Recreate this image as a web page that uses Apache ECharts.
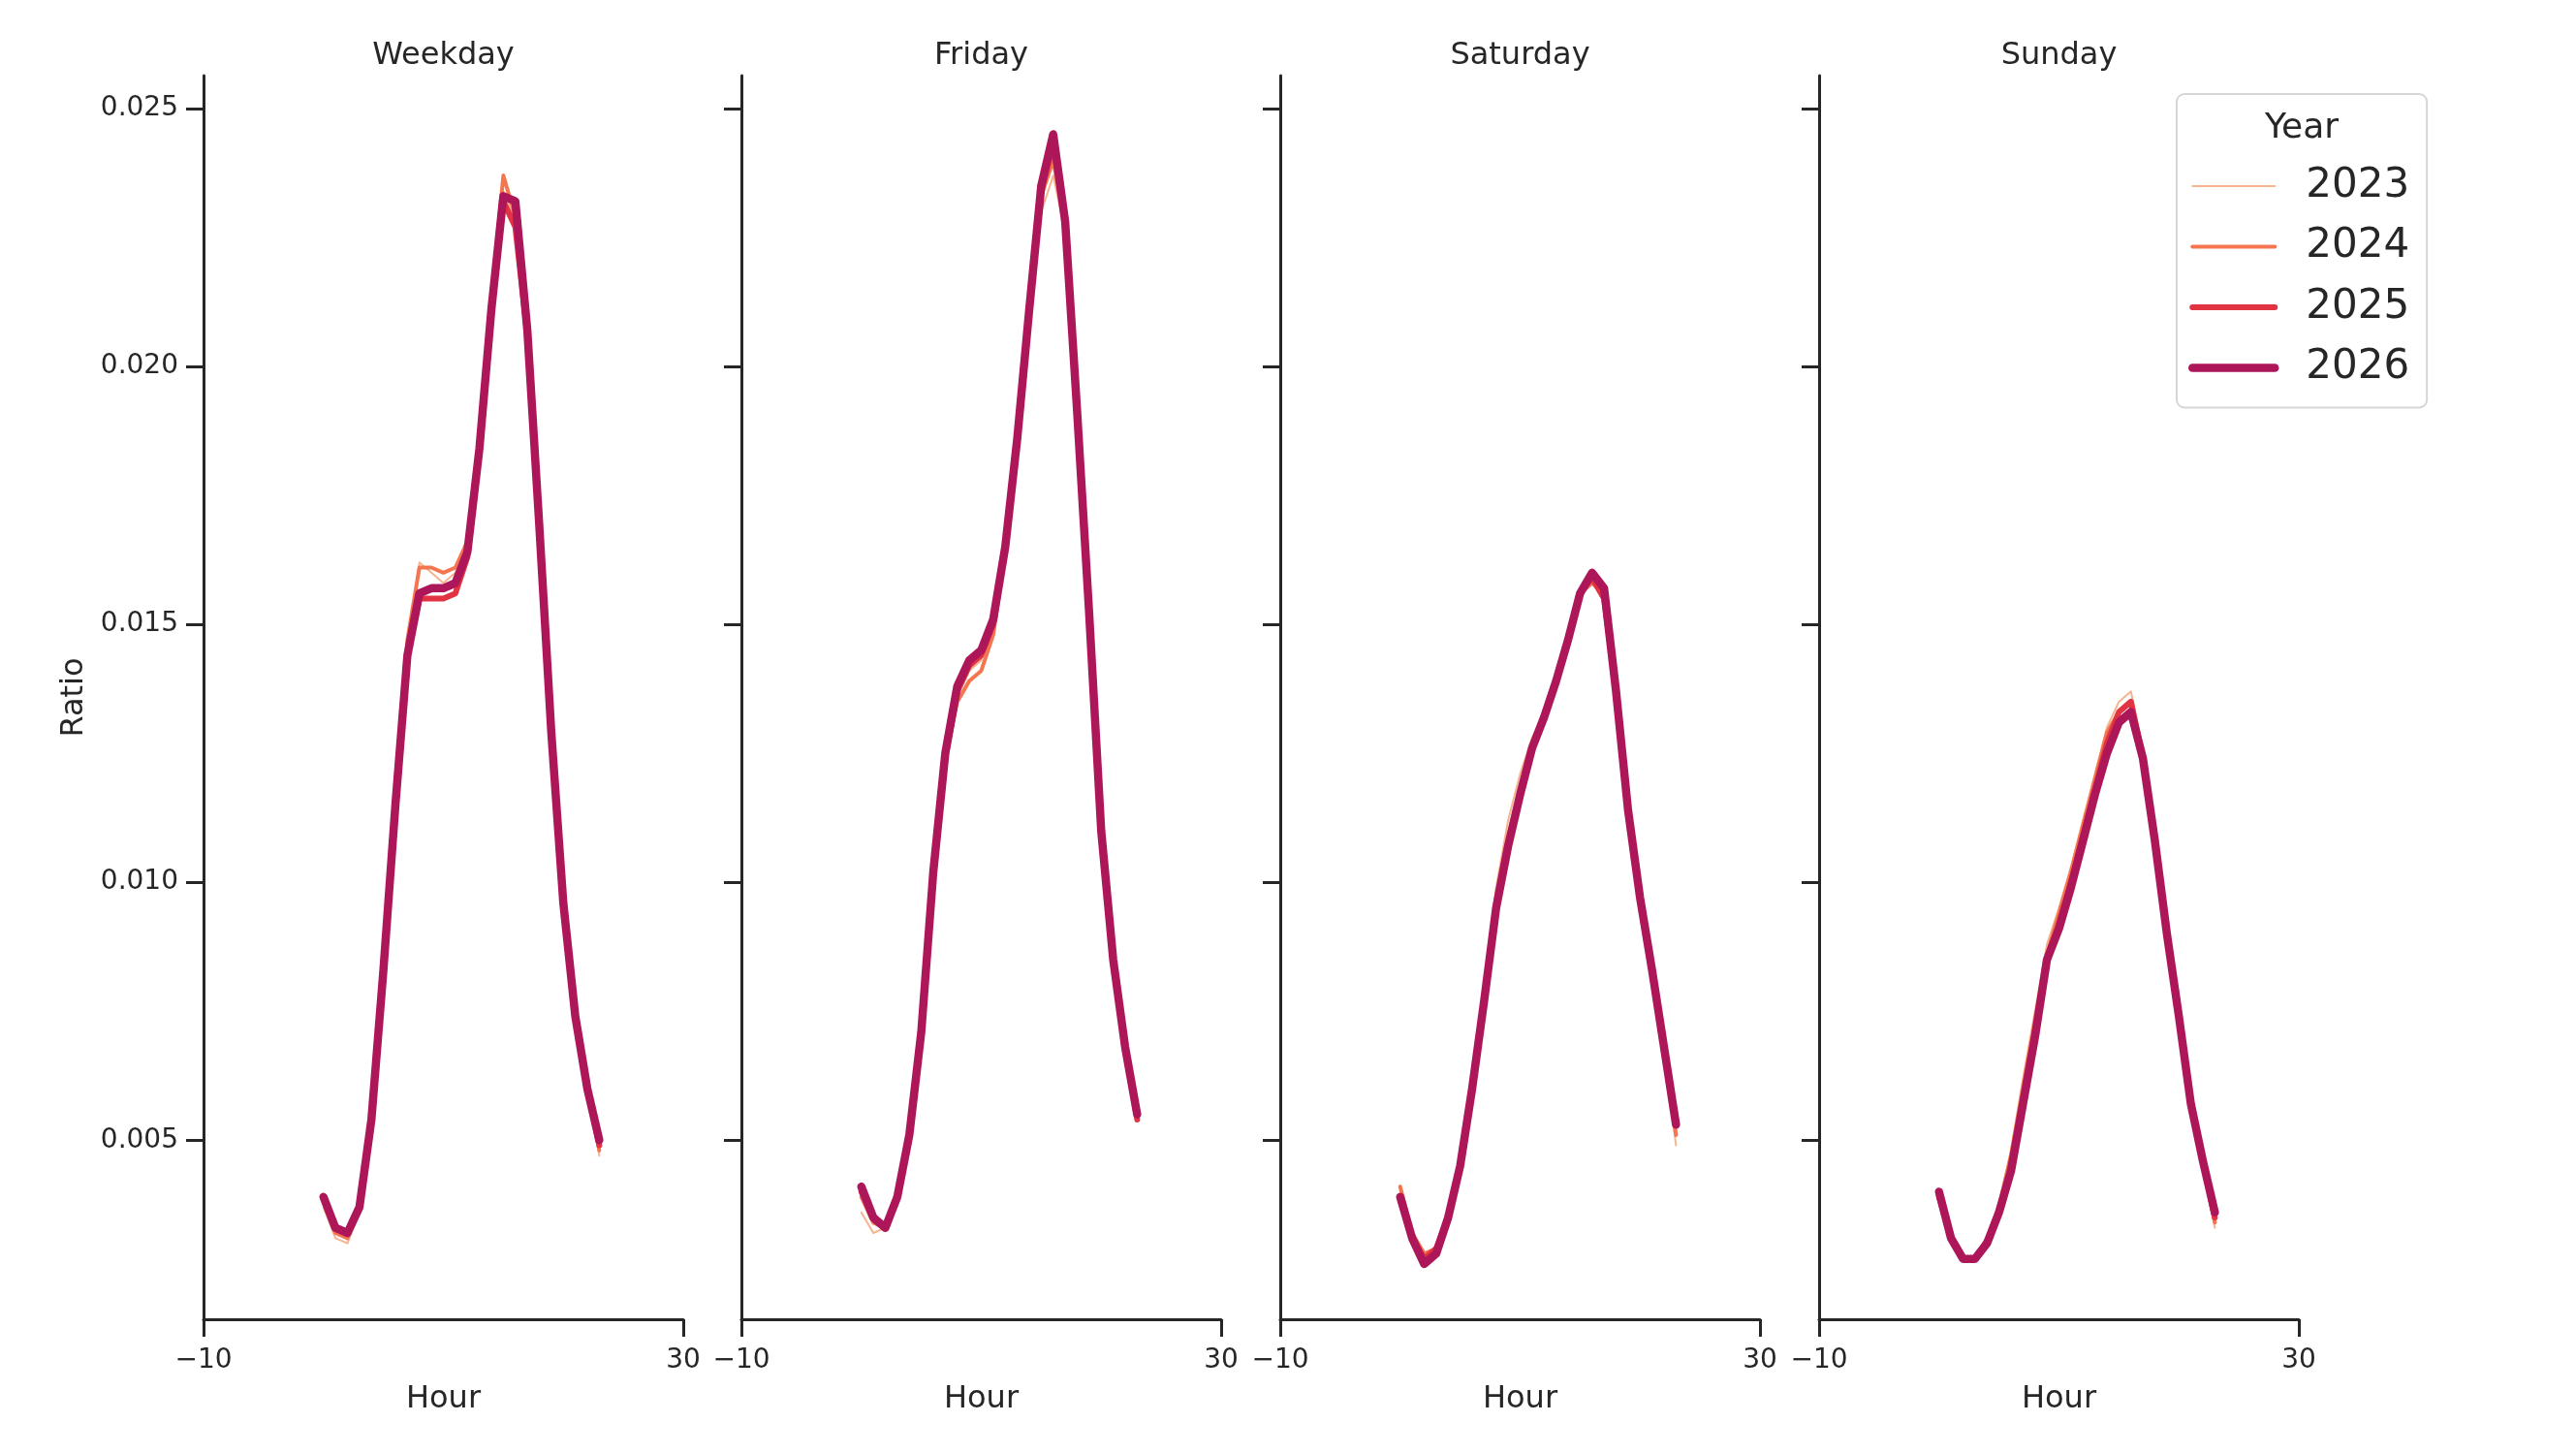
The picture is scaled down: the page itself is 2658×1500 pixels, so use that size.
<!DOCTYPE html>
<html>
<head>
<meta charset="utf-8">
<script src="https://cdn.jsdelivr.net/npm/echarts@6/dist/echarts.min.js"></script>
<style>html,body{margin:0;padding:0;background:#fff;}#c{width:2658px;height:1500px;}</style>
</head>
<body>
<div id="c"></div>
<script>
const hours = [0,1,2,3,4,5,6,7,8,9,10,11,12,13,14,15,16,17,18,19,20,21,22,23];
const panels = ['Weekday','Friday','Saturday','Sunday'];
const years = ['2023','2024','2025','2026'];
const xTicks = [-10, 30];
const yTicks = [0.005, 0.010, 0.015, 0.020, 0.025];

// Weekday
const weekday2023 = [0.0037,0.0031,0.0030,0.0036,0.0053,0.0082,0.0115,0.0146,0.0162,0.0160,0.0158,0.0160,0.0167,0.0186,0.0212,0.0234,0.0228,0.0206,0.0169,0.0129,0.0096,0.0074,0.0060,0.0047];
const weekday2024 = [0.0038,0.0032,0.0031,0.0037,0.0054,0.0083,0.0116,0.0147,0.0161,0.0161,0.0160,0.0161,0.0166,0.0185,0.0213,0.0237,0.0229,0.0207,0.0169,0.0129,0.0096,0.0074,0.0060,0.0048];
const weekday2025 = [0.0039,0.0033,0.0032,0.0037,0.0054,0.0083,0.0115,0.0144,0.0155,0.0155,0.0155,0.0156,0.0163,0.0183,0.0210,0.0232,0.0227,0.0206,0.0169,0.0129,0.0096,0.0074,0.0060,0.0049];
const weekday2026 = [0.0039,0.0033,0.0032,0.0037,0.0054,0.0083,0.0115,0.0144,0.0156,0.0157,0.0157,0.0158,0.0164,0.0184,0.0211,0.0233,0.0232,0.0207,0.0169,0.0129,0.0096,0.0074,0.0060,0.0050];
// Friday
const friday2023 = [0.0036,0.0032,0.0033,0.0038,0.0051,0.0071,0.0101,0.0124,0.0136,0.0141,0.0143,0.0150,0.0165,0.0184,0.0208,0.0230,0.0237,0.0226,0.0191,0.0151,0.0110,0.0085,0.0068,0.0054];
const friday2024 = [0.0039,0.0034,0.0033,0.0038,0.0051,0.0071,0.0101,0.0124,0.0135,0.0139,0.0141,0.0148,0.0164,0.0185,0.0210,0.0233,0.0240,0.0227,0.0191,0.0151,0.0110,0.0085,0.0068,0.0054];
const friday2025 = [0.0040,0.0035,0.0033,0.0039,0.0051,0.0071,0.0102,0.0124,0.0137,0.0142,0.0144,0.0150,0.0165,0.0186,0.0211,0.0234,0.0243,0.0228,0.0191,0.0151,0.0110,0.0085,0.0068,0.0054];
const friday2026 = [0.0041,0.0035,0.0033,0.0039,0.0051,0.0071,0.0102,0.0125,0.0138,0.0143,0.0145,0.0151,0.0165,0.0186,0.0211,0.0235,0.0245,0.0228,0.0191,0.0152,0.0110,0.0085,0.0068,0.0055];
// Saturday
const saturday2023 = [0.0040,0.0031,0.0027,0.0028,0.0036,0.0047,0.0062,0.0079,0.0099,0.0112,0.0121,0.0128,0.0133,0.0140,0.0148,0.0156,0.0158,0.0156,0.0137,0.0114,0.0097,0.0082,0.0067,0.0049];
const saturday2024 = [0.0041,0.0032,0.0028,0.0029,0.0036,0.0046,0.0061,0.0078,0.0097,0.0109,0.0118,0.0127,0.0132,0.0139,0.0147,0.0156,0.0158,0.0156,0.0137,0.0115,0.0097,0.0083,0.0067,0.0051];
const saturday2025 = [0.0039,0.0031,0.0027,0.0029,0.0035,0.0045,0.0060,0.0077,0.0095,0.0107,0.0117,0.0126,0.0132,0.0139,0.0147,0.0156,0.0159,0.0155,0.0137,0.0114,0.0097,0.0083,0.0068,0.0053];
const saturday2026 = [0.0039,0.0031,0.0026,0.0028,0.0035,0.0045,0.0060,0.0077,0.0095,0.0107,0.0117,0.0126,0.0132,0.0139,0.0147,0.0156,0.0160,0.0157,0.0137,0.0114,0.0097,0.0083,0.0068,0.0053];
// Sunday
const sunday2023 = [0.0039,0.0031,0.0027,0.0027,0.0031,0.0038,0.0048,0.0062,0.0075,0.0088,0.0095,0.0103,0.0112,0.0121,0.0130,0.0135,0.0137,0.0126,0.0107,0.0088,0.0072,0.0056,0.0045,0.0033];
const sunday2024 = [0.0039,0.0031,0.0027,0.0027,0.0031,0.0037,0.0047,0.0060,0.0073,0.0086,0.0094,0.0102,0.0111,0.0120,0.0129,0.0133,0.0135,0.0125,0.0107,0.0089,0.0073,0.0057,0.0045,0.0034];
const sunday2025 = [0.0039,0.0031,0.0027,0.0027,0.0030,0.0036,0.0045,0.0058,0.0071,0.0085,0.0092,0.0100,0.0109,0.0118,0.0127,0.0133,0.0135,0.0124,0.0108,0.0090,0.0074,0.0057,0.0046,0.0035];
const sunday2026 = [0.0040,0.0031,0.0027,0.0027,0.0030,0.0036,0.0044,0.0057,0.0070,0.0085,0.0091,0.0099,0.0108,0.0117,0.0125,0.0131,0.0133,0.0124,0.0108,0.0090,0.0074,0.0057,0.0046,0.0036];

const panelData = [
  [weekday2023, weekday2024, weekday2025, weekday2026],
  [friday2023, friday2024, friday2025, friday2026],
  [saturday2023, saturday2024, saturday2025, saturday2026],
  [sunday2023, sunday2024, sunday2025, sunday2026]
];

const colors = ['#f6b48f','#f37651','#e13342','#ad1759'];
const widths = [2, 4, 6, 8.5];
const TXT = '#262626';
const FONT = 'DejaVu Sans';

const gridLefts = [210, 765, 1321, 1877];
const gridTop = 78, gridW = 495, gridH = 1283;

const grid = [], xAxis = [], yAxis = [], series = [], title = [];
panels.forEach((p, i) => {
  grid.push({left: gridLefts[i], top: gridTop, width: gridW, height: gridH, containLabel: false});
  title.push({
    text: p, left: gridLefts[i] + gridW / 2, top: 42, textAlign: 'center', padding: 0,
    textStyle: {fontFamily: FONT, fontSize: 32, fontWeight: 'normal', color: TXT}
  });
  xAxis.push({
    type: 'value', gridIndex: i, min: -10, max: 30,
    name: 'Hour', nameLocation: 'middle', nameGap: 67,
    nameTextStyle: {fontFamily: FONT, fontSize: 32, color: TXT},
    axisLine: {show: true, onZero: false, lineStyle: {color: TXT, width: 3}},
    axisTick: {show: true, length: 18, lineStyle: {color: TXT, width: 3}, customValues: xTicks},
    axisLabel: {show: true, margin: 29, fontFamily: FONT, fontSize: 28, color: TXT, customValues: xTicks,
      formatter: v => v < 0 ? '\u2212' + Math.abs(v) : String(v)},
    splitLine: {show: false}
  });
  yAxis.push({
    type: 'value', gridIndex: i, min: 0.001528, max: 0.025637,
    name: i === 0 ? 'Ratio' : '', nameLocation: 'middle', nameGap: 117, nameRotate: 90,
    nameTextStyle: {fontFamily: FONT, fontSize: 32, color: TXT},
    axisLine: {show: true, onZero: false, lineStyle: {color: TXT, width: 3}},
    axisTick: {show: true, length: 18, lineStyle: {color: TXT, width: 3}, customValues: yTicks},
    axisLabel: {show: i === 0, margin: 26, fontFamily: FONT, fontSize: 28, color: TXT, customValues: yTicks,
      formatter: v => v.toFixed(3)},
    splitLine: {show: false}
  });
  years.forEach((y, k) => {
    series.push({
      name: y, type: 'line', xAxisIndex: i, yAxisIndex: i,
      data: hours.map((h, j) => [h, panelData[i][k][j]]),
      showSymbol: false, symbol: 'none', smooth: false, animation: false,
      lineStyle: {color: colors[k], width: widths[k], cap: 'round', join: 'round'},
      itemStyle: {color: colors[k]},
      z: 2 + k
    });
  });
});

title.push({
  text: 'Year', left: 2375, top: 115, textAlign: 'center', padding: 0,
  textStyle: {fontFamily: FONT, fontSize: 36, fontWeight: 'normal', color: TXT}
});

const chart = echarts.init(document.getElementById('c'), null, {renderer: 'canvas'});
chart.setOption({
  backgroundColor: '#fff',
  animation: false,
  title: title,
  grid: grid, xAxis: xAxis, yAxis: yAxis, series: series,
  legend: {
    data: years,
    orient: 'vertical', left: 2246, top: 97,
    padding: [74, 18, 20, 12],
    itemWidth: 85, itemHeight: 20, itemGap: 20.5,
    lineStyle: {width: 'inherit', cap: 'round'},
    itemStyle: {opacity: 0, borderWidth: 0},
    borderColor: '#d6d6d6', borderWidth: 2, borderRadius: 8, backgroundColor: '#fff',
    textStyle: {fontFamily: FONT, fontSize: 42, color: TXT, lineHeight: 42, padding: [0, 0, 0, 27]},
    selectedMode: false
  }
});
</script>
</body>
</html>
